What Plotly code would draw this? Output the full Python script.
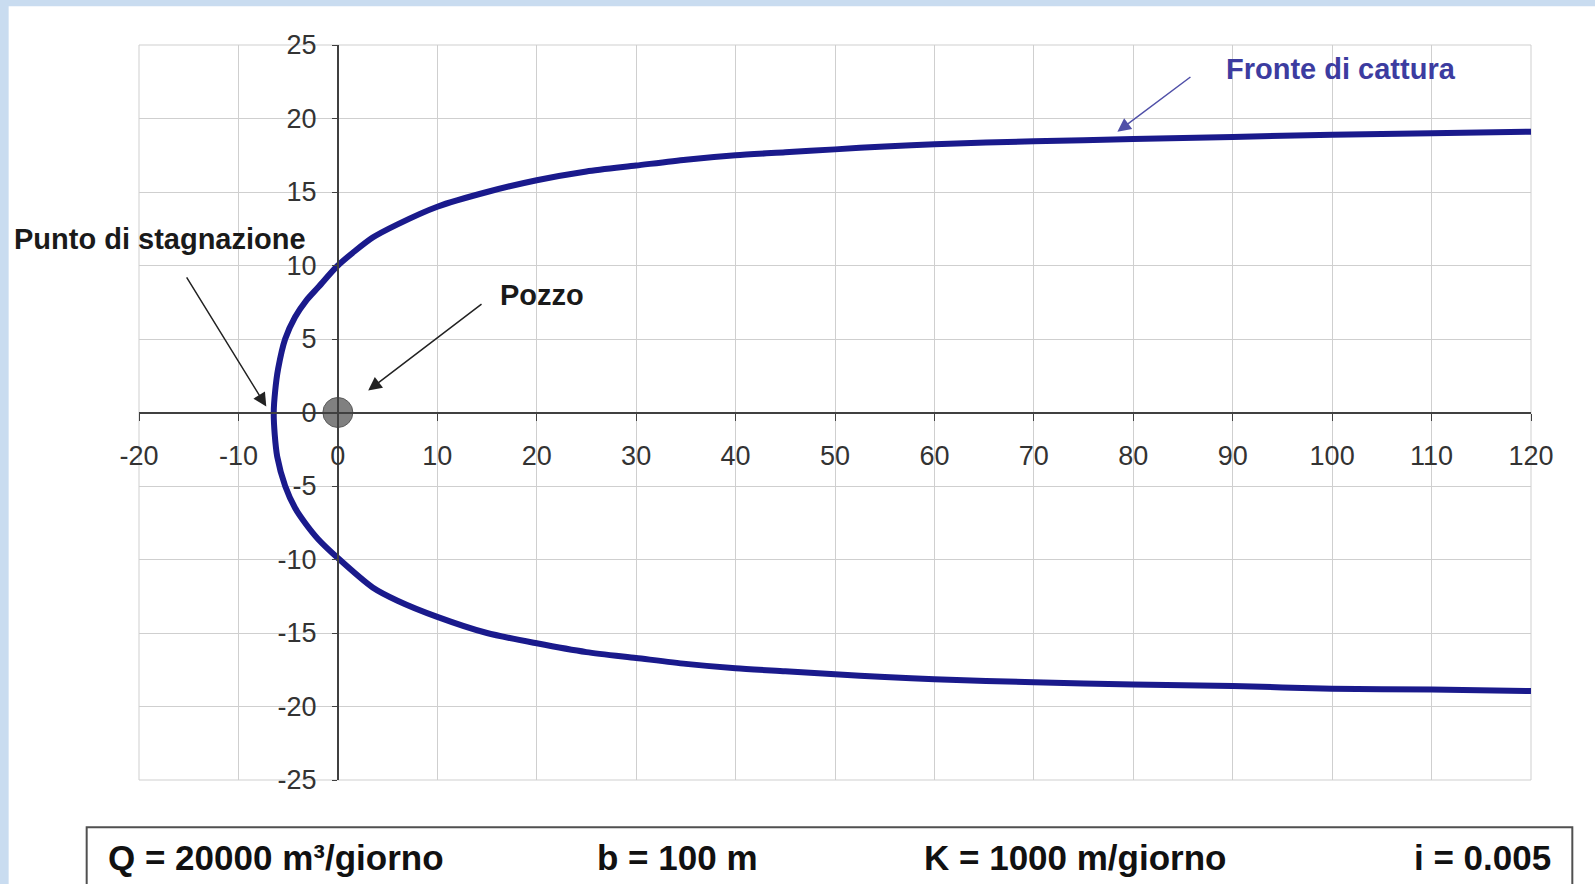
import plotly.graph_objects as go

# Capture-zone front, upper branch then lower branch
upper_x = [120, 110, 100, 90, 80, 70, 60, 55, 50, 45, 40, 35, 30, 25, 20, 15, 10, 6, 3.5, 0, -2.0, -3.2, -4.3, -5.3, -6.0, -6.3, -6.45]
upper_y = [19.1, 19.0, 18.9, 18.75, 18.6, 18.45, 18.25, 18.1, 17.9, 17.7, 17.5, 17.2, 16.8, 16.4, 15.8, 15.0, 14.0, 12.8, 11.9, 10.0, 8.5, 7.6, 6.5, 5.0, 3.0, 1.5, 0.0]
lower_x = [-6.35, -6.1, -5.3, -4.3, -3.2, -2.0, 0, 3.5, 6, 10, 15, 20, 25, 30, 35, 40, 45, 50, 55, 60, 70, 80, 90, 100, 110, 120]
lower_y = [-1.5, -3.0, -5.0, -6.5, -7.6, -8.6, -9.9, -11.9, -12.8, -13.9, -15.0, -15.7, -16.3, -16.7, -17.1, -17.4, -17.6, -17.8, -18.0, -18.15, -18.35, -18.5, -18.6, -18.8, -18.85, -18.95]

well_x = [0]
well_y = [0]

x_ticks = [-20, -10, 0, 10, 20, 30, 40, 50, 60, 70, 80, 90, 100, 110, 120]
x_labels = ["-20", "-10", "0", "10", "20", "30", "40", "50", "60", "70", "80", "90", "100", "110", "120"]
y_ticks = [-25, -20, -15, -10, -5, 0, 5, 10, 15, 20, 25]
y_labels = ["-25", "-20", "-15", "-10", "-5", "0", "5", "10", "15", "20", "25"]

params = ["Q = 20000 m³/giorno", "b = 100 m", "K = 1000 m/giorno", "i = 0.005"]

W, H = 1595, 884
L, R, T, B = 139.3, 1530.7, 44.8, 779.8
PW, PH = R - L, B - T


def px(xp):
    return (xp - L) / PW


def py(yp):
    return (B - yp) / PH


FONT = "Liberation Sans, Arial, sans-serif"

fig = go.Figure()
fig.add_trace(go.Scatter(
    x=upper_x + lower_x, y=upper_y + lower_y, mode="lines",
    line=dict(color="#1a1a8c", width=6, shape="spline", smoothing=0.7),
    hoverinfo="skip", showlegend=False))
fig.add_trace(go.Scatter(
    x=well_x, y=well_y, mode="markers",
    marker=dict(size=30, color="#808080", line=dict(color="#5a5a5a", width=1)),
    hoverinfo="skip", showlegend=False, cliponaxis=False))

fig.update_xaxes(range=[-20, 120], tickvals=x_ticks, ticktext=x_labels, showgrid=True,
                 gridcolor="#cfcfcf", gridwidth=1, zeroline=False, showline=True,
                 linecolor="#404040", linewidth=2, anchor="free", position=0.5,
                 ticks="outside", ticklen=7, tickcolor="#404040", ticklabelstandoff=12,
                 tickfont=dict(family=FONT, size=27, color="#333333"))
fig.update_yaxes(range=[-25, 25], tickvals=y_ticks, ticktext=y_labels, showgrid=True,
                 gridcolor="#cfcfcf", gridwidth=1, zeroline=False, showline=True,
                 linecolor="#404040", linewidth=2, anchor="free", position=20 / 140,
                 ticks="outside", ticklen=5, tickcolor="#404040", ticklabelstandoff=10,
                 tickfont=dict(family=FONT, size=27, color="#333333"))

shapes = [
    # white card over light-blue background
    dict(type="rect", xref="paper", yref="paper", layer="below",
         x0=px(9), x1=px(W + 5), y0=py(H + 5), y1=py(6),
         fillcolor="white", line=dict(width=0)),
    # plot area border
    dict(type="rect", xref="paper", yref="paper", layer="below",
         x0=0, x1=1, y0=0, y1=1, line=dict(color="#cfcfcf", width=1)),
    # parameter box
    dict(type="rect", xref="paper", yref="paper",
         x0=px(87), x1=px(1572), y0=py(900), y1=py(827),
         fillcolor="white", line=dict(color="#505050", width=2)),
]

annotations = [
    dict(x=-7.2, y=0.4, ax=-15.3, ay=9.3, xref="x", yref="y", axref="x", ayref="y",
         text="", showarrow=True, arrowhead=2, arrowsize=1.8, arrowwidth=1.5, arrowcolor="#222222"),
    dict(x=3.05, y=1.5, ax=14.6, ay=7.45, xref="x", yref="y", axref="x", ayref="y",
         text="", showarrow=True, arrowhead=2, arrowsize=1.8, arrowwidth=1.5, arrowcolor="#222222"),
    dict(x=78.4, y=19.1, ax=85.9, ay=22.9, xref="x", yref="y", axref="x", ayref="y",
         text="", showarrow=True, arrowhead=2, arrowsize=1.8, arrowwidth=1.5, arrowcolor="#5050a8"),
    dict(x=px(12), y=py(239), xref="paper", yref="paper", xanchor="left", yanchor="middle",
         text="<b>Punto di stagnazione</b>", showarrow=False,
         font=dict(family=FONT, size=29, color="#1a1a1a")),
    dict(x=px(498), y=py(295), xref="paper", yref="paper", xanchor="left", yanchor="middle",
         text="<b>Pozzo</b>", showarrow=False,
         font=dict(family=FONT, size=29, color="#1a1a1a")),
    dict(x=px(1224), y=py(69), xref="paper", yref="paper", xanchor="left", yanchor="middle",
         text="<b>Fronte di cattura</b>", showarrow=False,
         font=dict(family=FONT, size=29, color="#3c3ca0")),
]

box_pos = [(106, "left"), (595, "left"), (922, "left"), (1553, "right")]
for label, (xp, anc) in zip(params, box_pos):
    annotations.append(dict(x=px(xp), y=py(857), xref="paper", yref="paper", xanchor=anc,
                            yanchor="middle", text="<b>" + label + "</b>", showarrow=False,
                            font=dict(family=FONT, size=35, color="#111111")))

fig.update_layout(
    width=W, height=H, autosize=False,
    margin=dict(l=L, r=W - R, t=T, b=H - B, pad=0),
    paper_bgcolor="#c9dcf0", plot_bgcolor="rgba(0,0,0,0)",
    shapes=shapes, annotations=annotations, showlegend=False,
)

fig.write_html("out.html", config={"displayModeBar": False},
               post_script="document.body.style.margin='0px';")
